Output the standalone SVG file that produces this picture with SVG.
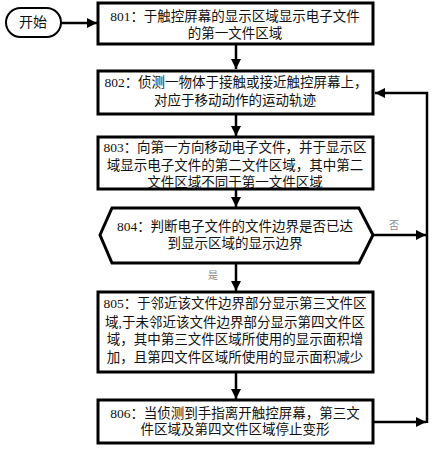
<svg xmlns="http://www.w3.org/2000/svg" width="432" height="450" viewBox="0 0 432 450">
<defs>
<marker id="ah" markerUnits="userSpaceOnUse" markerWidth="10" markerHeight="10" viewBox="0 0 10 10" refX="10" refY="5" orient="auto">
<path d="M0,0 L10,5 L0,10 Z" fill="#000"/>
</marker>
</defs>
<style>
.box{fill:#fff;stroke:#000;stroke-width:3}
.t{font-family:"Liberation Serif","Noto Sans CJK SC",serif;font-size:13.5px;fill:#111;text-anchor:middle}
.c{fill:none;stroke:#000;stroke-width:2.5}
.lbl{font-family:"Noto Sans CJK SC",sans-serif;font-size:10px;fill:#888;text-anchor:middle}
</style>
<rect width="432" height="450" fill="#fff"/>
<g id="connectors">
<line class="c" x1="61" y1="23" x2="97" y2="23" marker-end="url(#ah)"/>
<line class="c" x1="236" y1="44" x2="236" y2="69" marker-end="url(#ah)"/>
<line class="c" x1="236" y1="114" x2="236" y2="136" marker-end="url(#ah)"/>
<line class="c" x1="236" y1="189" x2="236" y2="207" marker-end="url(#ah)"/>
<line class="c" x1="236" y1="263" x2="236" y2="291" marker-end="url(#ah)"/>
<line class="c" x1="236" y1="372" x2="236" y2="399" marker-end="url(#ah)"/>
<line class="c" x1="373" y1="235" x2="426" y2="235" marker-end="url(#ah)"/>
<line class="c" x1="373" y1="422" x2="426" y2="422" marker-end="url(#ah)"/>
<polyline class="c" points="427,423 427,93 375,93" marker-end="url(#ah)"/>
<text class="lbl" x="394" y="229">否</text>
<text class="lbl" x="213" y="279">是</text>
</g>
<g id="start">
<rect x="6" y="8" width="55" height="29" rx="14.5" fill="#fff" stroke="#000" stroke-width="2"/>
<text class="t" x="33" y="27" style="font-size:14px">开始</text>
</g>
<g id="n801">
<rect class="box" x="98" y="3" width="275" height="41"/>
<text class="t" x="235" y="21">801：于触控屏幕的显示区域显示电子文件</text>
<text class="t" x="235" y="38">的第一文件区域</text>
</g>
<g id="n802">
<rect class="box" x="98" y="71" width="275" height="43"/>
<text class="t" x="236" y="87">802：侦测一物体于接触或接近触控屏幕上，</text>
<text class="t" x="235" y="105">对应于移动动作的运动轨迹</text>
</g>
<g id="n803">
<rect class="box" x="98" y="137" width="275" height="52"/>
<text class="t" x="235" y="152">803：向第一方向移动电子文件，并于显示区</text>
<text class="t" x="235" y="170">域显示电子文件的第二文件区域，其中第二</text>
<text class="t" x="235" y="187">文件区域不同于第一文件区域</text>
</g>
<g id="n804">
<polygon class="box" points="100,235 112,208 359,208 373,235 359,263 112,263"/>
<text class="t" x="235" y="231">804：判断电子文件的文件边界是否已达</text>
<text class="t" x="235" y="248">到显示区域的显示边界</text>
</g>
<g id="n805">
<rect class="box" x="98" y="292" width="275" height="80"/>
<text class="t" x="235" y="308">805：于邻近该文件边界部分显示第三文件区</text>
<text class="t" x="235" y="327">域,于未邻近该文件边界部分显示第四文件区</text>
<text class="t" x="235" y="344">域，其中第三文件区域所使用的显示面积增</text>
<text class="t" x="235" y="362">加，且第四文件区域所使用的显示面积减少</text>
</g>
<g id="n806">
<rect class="box" x="98" y="400" width="275" height="43"/>
<text class="t" x="235" y="418">806：当侦测到手指离开触控屏幕，第三文</text>
<text class="t" x="235" y="434">件区域及第四文件区域停止变形</text>
</g>
</svg>
